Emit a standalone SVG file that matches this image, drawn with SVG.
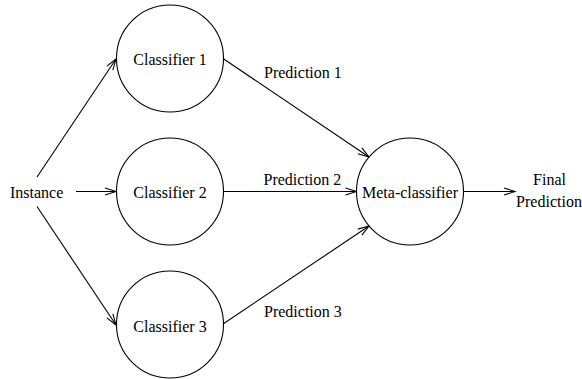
<svg xmlns="http://www.w3.org/2000/svg" width="582" height="379" viewBox="0 0 582 379">
<style>
  .node { fill: #fff; stroke: #000; stroke-width: 1.1; }
  text { font-family: 'Liberation Serif', 'Times New Roman', Times, 'DejaVu Serif', serif; font-size: 16px; fill: #000; }
  .mid { text-anchor: middle; }
  .edge { stroke: #000; stroke-width: 1.1; fill: none; marker-end: url(#arr); }
</style>
<defs>
  <marker id="arr" markerUnits="userSpaceOnUse" markerWidth="14" markerHeight="10" viewBox="-12 -5 14 10" refX="0" refY="0" orient="auto">
    <path d="M-11,-3.6 L0,0 L-11,3.6" fill="none" stroke="#000" stroke-width="1.1"/>
  </marker>
</defs>
<rect width="582" height="379" fill="#fff"/>
<g id="connectors">
  <line class="edge" x1="76" y1="191.5" x2="116" y2="191.5"/>
  <line class="edge" x1="37" y1="177" x2="116" y2="59"/>
  <line class="edge" x1="37" y1="206.5" x2="116" y2="325"/>
  <line class="edge" x1="223" y1="58.5" x2="369" y2="157"/>
  <line class="edge" x1="223.5" y1="191.5" x2="356.5" y2="191.5"/>
  <line class="edge" x1="223" y1="324" x2="369" y2="226"/>
  <line class="edge" x1="463.5" y1="191.5" x2="515" y2="191.5"/>
</g>
<g id="instance">
  <text x="10" y="198" font-family="Liberation Serif, serif">Instance</text>
</g>
<g id="classifier1">
  <circle class="node" cx="170" cy="58.5" r="53.5"/>
  <text class="mid" x="170" y="65" font-family="Liberation Serif, serif">Classifier 1</text>
</g>
<g id="classifier2">
  <circle class="node" cx="170" cy="191.5" r="53.5"/>
  <text class="mid" x="170" y="198" font-family="Liberation Serif, serif">Classifier 2</text>
</g>
<g id="classifier3">
  <circle class="node" cx="170" cy="324.5" r="53.5"/>
  <text class="mid" x="170" y="331.5" font-family="Liberation Serif, serif">Classifier 3</text>
</g>
<g id="meta">
  <circle class="node" cx="410" cy="191.5" r="53.5"/>
  <text class="mid" x="410" y="197.5" font-family="Liberation Serif, serif">Meta-classifier</text>
</g>
<g id="labels">
  <text x="264" y="78" font-family="Liberation Serif, serif">Prediction 1</text>
  <text x="263.5" y="185" font-family="Liberation Serif, serif">Prediction 2</text>
  <text x="264" y="317" font-family="Liberation Serif, serif">Prediction 3</text>
</g>
<g id="final">
  <text class="mid" x="549.5" y="185" font-family="Liberation Serif, serif">Final</text>
  <text class="mid" x="549" y="207" font-family="Liberation Serif, serif">Prediction</text>
</g>
</svg>
